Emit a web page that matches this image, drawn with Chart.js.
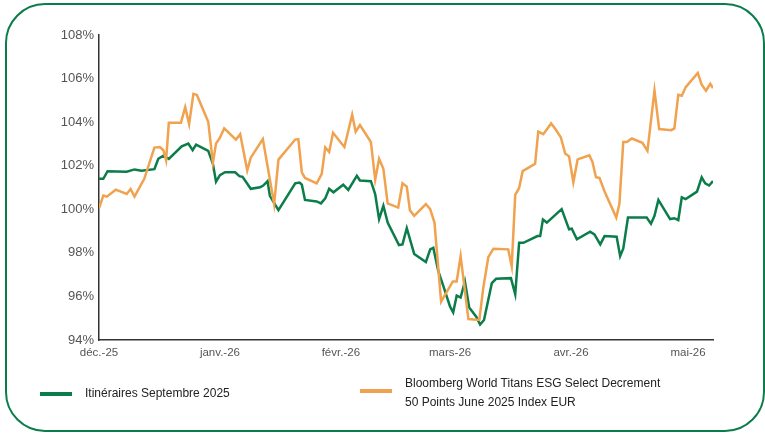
<!DOCTYPE html>
<html>
<head>
<meta charset="utf-8">
<script src="https://cdn.jsdelivr.net/npm/chart.js@4"></script>
<style>
  html,body{margin:0;padding:0;background:#fff;}
  #wrap{position:relative;width:765px;height:434px;overflow:hidden;font-family:"Liberation Sans",Arial,sans-serif;}
  #frame{position:absolute;left:5px;top:3px;width:756px;height:425px;border:2px solid #0b7d4b;border-radius:40px;}
  #chart{position:absolute;left:0;top:0;}
  .lg{position:absolute;font-size:12px;color:#222;line-height:19px;}
  .sw{position:absolute;height:4px;width:32px;}
</style>
</head>
<body>
<div id="wrap">
  <div id="frame"></div>
  <canvas id="chart" width="765" height="434"></canvas>
  <div class="sw" style="left:40px;top:392px;background:#0b7d4b"></div>
  <div class="lg" style="left:85px;top:384px">Itinéraires Septembre 2025</div>
  <div class="sw" style="left:360px;top:389px;background:#f0a24f"></div>
  <div class="lg" style="left:405px;top:374px">Bloomberg World Titans ESG Select Decrement<br>50 Points June 2025 Index EUR</div>
</div>
<script>
/* ---------- données (jours depuis le 1er déc. 2025, valeur en %) ---------- */
const monthDays   = [0, 31, 62, 90, 121, 151];
const monthLabels = ['déc.-25','janv.-26','févr.-26','mars-26','avr.-26','mai-26'];
const yMin = 94, yMax = 108, yStep = 2;

const greenName = 'Itinéraires Septembre 2025';
const greenDays = [0,1.1,2.2,7.1,9.1,10.9,14.2,15.2,16.5,17.9,21.2,22.9,24.0,24.9,28.0,29.2,30.0,31.0,32.3,34.9,36.0,36.8,38.9,41.3,42.1,43.2,43.8,46.0,50.3,51.4,52.0,52.8,55.8,56.9,58.0,59.0,60.1,62.6,63.9,66.1,66.9,69.7,70.8,71.8,72.9,74.0,76.9,77.8,78.9,80.8,83.8,84.9,85.7,87.0,88.3,90.0,90.8,91.7,92.7,93.8,94.9,96.7,97.7,98.7,100.7,101.8,105.6,106.7,107.7,108.8,112.4,113.1,113.8,114.8,118.6,120.5,121.2,122.5,125.9,127.0,128.5,129.6,132.7,133.6,134.4,135.6,140.4,141.5,142.4,143.4,146.4,147.5,148.5,149.4,150.4,153.3,154.5,155.4,156.4,157.4];
const greenVals = [101.40,101.40,101.75,101.72,101.83,101.77,101.84,102.32,102.46,102.31,102.89,103.02,102.71,102.97,102.68,102.09,101.27,101.57,101.70,101.70,101.52,101.49,100.94,101.01,101.09,101.29,100.62,99.96,101.19,101.23,101.13,100.43,100.36,100.27,100.50,100.94,100.78,101.13,100.89,101.54,101.32,101.29,100.70,99.55,100.16,99.39,98.36,98.39,99.13,97.95,97.58,98.16,98.23,97.15,96.46,95.53,95.27,96.04,95.95,96.69,95.49,95.07,94.71,94.92,96.61,96.81,96.84,96.10,98.46,98.46,98.77,98.77,99.53,99.39,100.01,99.08,99.11,98.62,98.97,98.85,98.39,98.77,98.74,97.85,98.20,99.62,99.62,99.34,99.70,100.43,99.55,99.59,99.50,100.55,100.47,100.81,101.47,101.19,101.09,101.29];

const orangeName = 'Bloomberg World Titans ESG Select Decrement 50 Points June 2025 Index EUR';
const orangeDays = [0,1.1,2.0,4.3,7.1,8.1,9.1,11.6,14.2,15.6,16.5,17.2,17.9,21.0,22.1,23.1,24.2,25.1,28.0,29.2,30.0,30.9,32.1,35.1,36.2,38.0,38.9,42.0,44.9,46.0,50.3,51.1,52.0,52.8,55.8,57.1,58.0,59.0,60.0,62.9,64.9,65.8,66.9,69.7,70.8,71.8,72.9,74.0,76.7,77.8,78.9,79.7,80.8,83.8,84.9,86.0,87.7,90.7,91.7,92.7,94.7,97.5,98.5,99.8,101.1,104.9,105.8,106.7,107.7,108.6,111.8,112.6,113.9,115.9,116.9,118.4,119.5,120.5,121.6,122.7,125.7,126.5,127.4,128.3,129.6,132.6,133.4,134.4,135.3,136.6,139.3,140.6,142.4,143.6,146.7,147.5,148.5,149.4,150.4,153.5,154.5,155.6,156.7,157.4];
const orangeVals = [100.04,100.63,100.58,100.90,100.70,100.93,100.58,101.40,102.83,102.86,102.71,102.25,103.97,103.97,104.69,103.91,105.30,105.25,104.02,102.13,103.02,103.25,103.71,103.20,103.45,101.78,102.37,103.22,100.24,102.28,103.20,103.22,101.70,101.44,101.19,101.63,102.84,102.63,103.51,102.86,104.34,103.56,103.87,103.09,101.35,102.32,101.86,100.27,100.08,101.19,101.04,99.96,99.70,100.24,100.01,99.39,95.76,96.69,96.69,97.85,94.96,94.92,96.38,97.80,98.19,98.16,97.38,100.66,100.98,101.75,102.09,103.56,103.45,103.94,103.71,103.30,102.56,102.43,101.24,102.29,102.48,102.17,101.47,101.44,100.82,99.62,100.24,103.09,103.09,103.25,103.05,102.68,105.45,103.68,103.63,103.71,105.25,105.21,105.61,106.26,105.72,105.44,105.76,105.56];

const GREEN = '#0b7d4b', ORANGE = '#f0a24f';
const pts = (xs, ys) => xs.map((x, i) => ({ x, y: ys[i] }));

const tickFont = { family: '"Liberation Sans", Arial, sans-serif', size: 13 };

new Chart(document.getElementById('chart').getContext('2d'), {
  type: 'line',
  data: {
    datasets: [
      { label: orangeName, data: pts(orangeDays, orangeVals), borderColor: ORANGE, borderWidth: 2.5, pointRadius: 0, tension: 0, order: 0 },
      { label: greenName,  data: pts(greenDays, greenVals),   borderColor: GREEN,  borderWidth: 2.5, pointRadius: 0, tension: 0, order: 1 }
    ]
  },
  options: {
    responsive: false, animation: false, devicePixelRatio: 1,
    layout: { padding: { left: 0, top: 35, right: 52, bottom: 69 } },
    plugins: { legend: { display: false }, tooltip: { enabled: false } },
    scales: {
      x: {
        type: 'linear', min: 0, max: 157.4,
        grid: { display: false, drawTicks: false },
        border: { display: true, color: '#333', width: 1.5 },
        afterBuildTicks: s => { s.ticks = monthDays.map(v => ({ value: v })); },
        afterFit: s => { s.height = 25; },
        ticks: {
          padding: 6, color: '#555', font: { ...tickFont, size: 11.5 }, maxRotation: 0, autoSkip: false,
          callback: v => monthLabels[monthDays.indexOf(v)]
        }
      },
      y: {
        min: yMin, max: yMax,
        grid: { display: false, drawTicks: false },
        border: { display: true, color: '#333', width: 1.5 },
        afterFit: s => { s.width = 99; },
        ticks: { stepSize: yStep, padding: 5, color: '#555', font: tickFont, callback: v => v + '%' }
      }
    }
  }
});
</script>
</body>
</html>
